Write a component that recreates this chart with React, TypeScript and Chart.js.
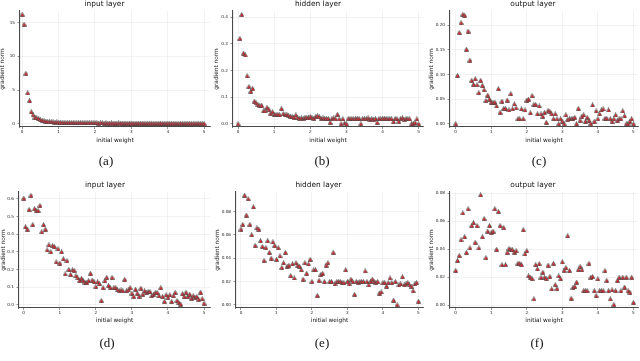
import React, { useEffect, useRef } from "react";
import { Chart, registerables } from "chart.js";
Chart.register(...registerables);

const weights = [
  0, 0.05, 0.1, 0.15, 0.2, 0.25, 0.3, 0.35, 0.4, 0.45,
  0.5, 0.55, 0.6, 0.65, 0.7, 0.75, 0.8, 0.85, 0.9, 0.95,
  1, 1.05, 1.1, 1.15, 1.2, 1.25, 1.3, 1.35, 1.4, 1.45,
  1.5, 1.55, 1.6, 1.65, 1.7, 1.75, 1.8, 1.85, 1.9, 1.95,
  2, 2.05, 2.1, 2.15, 2.2, 2.25, 2.3, 2.35, 2.4, 2.45,
  2.5, 2.55, 2.6, 2.65, 2.7, 2.75, 2.8, 2.85, 2.9, 2.95,
  3, 3.05, 3.1, 3.15, 3.2, 3.25, 3.3, 3.35, 3.4, 3.45,
  3.5, 3.55, 3.6, 3.65, 3.7, 3.75, 3.8, 3.85, 3.9, 3.95,
  4, 4.05, 4.1, 4.15, 4.2, 4.25, 4.3, 4.35, 4.4, 4.45,
  4.5, 4.55, 4.6, 4.65, 4.7, 4.75, 4.8, 4.85, 4.9, 4.95,
  5,
];

// (a) input layer, run 1
const inputA = [
  16.2, 14.75, 7.5, 4.6, 3.45, 1.8, 1.35, 1.0, 0.9, 0.8,
  0.62, 0.55, 0.48, 0.42, 0.38, 0.33, 0.36, 0.3, 0.28, 0.3,
  0.26, 0.25, 0.22, 0.24, 0.2, 0.23, 0.21, 0.19, 0.22, 0.2,
  0.18, 0.21, 0.19, 0.17, 0.2, 0.18, 0.16, 0.19, 0.17, 0.15,
  0.2, 0.16, 0.14, 0.17, 0.15, 0.13, 0.16, 0.14, 0.12, 0.15,
  0.13, 0.14, 0.12, 0.15, 0.11, 0.13, 0.12, 0.14, 0.1, 0.13,
  0.11, 0.12, 0.1, 0.13, 0.11, 0.09, 0.12, 0.1, 0.11, 0.09,
  0.12, 0.1, 0.08, 0.11, 0.09, 0.1, 0.12, 0.08, 0.1, 0.09,
  0.11, 0.09, 0.1, 0.08, 0.11, 0.09, 0.07, 0.1, 0.08, 0.09,
  0.11, 0.08, 0.1, 0.07, 0.09, 0.08, 0.1, 0.09, 0.07, 0.08,
  0.06,
];
// (b) hidden layer, run 1
const hiddenB = [
  0.0, 0.32, 0.41, 0.265, 0.258, 0.18, 0.14, 0.122, 0.133, 0.085,
  0.078, 0.072, 0.068, 0.07, 0.048, 0.048, 0.062, 0.055, 0.04, 0.045,
  0.036, 0.035, 0.036, 0.034, 0.057, 0.038, 0.033, 0.036, 0.031, 0.028,
  0.027, 0.025, 0.033, 0.024, 0.02, 0.022, 0.02, 0.024, 0.025, 0.022,
  0.028, 0.022, 0.02, 0.028, 0.03, 0.026, 0.02, 0.022, 0.021, 0.02,
  0.02, 0.005, 0.02, 0.022, 0.018, 0.036, 0.018, 0.0, 0.019, 0.003,
  0.0, 0.02, 0.019, 0.02, 0.018, 0.02, 0.021, 0.02, 0.0, 0.02,
  0.018, 0.02, 0.022, 0.016, 0.02, 0.015, 0.02, 0.005, 0.02, 0.018,
  0.02, 0.021, 0.02, 0.019, 0.02, 0.018, 0.008, 0.02, 0.019, 0.01,
  0.02, 0.022, 0.016, 0.02, 0.019, 0.018, 0.0, 0.002, 0.005, 0.018,
  0.0,
];
// (c) output layer, run 1
const outputC = [
  0.0, 0.098, 0.185, 0.205, 0.222, 0.22, 0.151, 0.188, 0.129, 0.088,
  0.08, 0.091, 0.079, 0.063, 0.088, 0.078, 0.069, 0.047, 0.058, 0.05,
  0.044, 0.043, 0.044, 0.036, 0.071, 0.023, 0.046, 0.031, 0.031, 0.048,
  0.028, 0.061, 0.03, 0.04, 0.032, 0.01, 0.01, 0.03, 0.01, 0.028,
  0.048, 0.05, 0.022, 0.057, 0.039, 0.039, 0.02, 0.036, 0.02, 0.015,
  0.023, 0.003, 0.027, 0.025, 0.02, 0.01, 0.02, 0.01, 0.0, 0.01,
  0.005, 0.0, 0.018, 0.009, 0.01, 0.01, 0.011, 0.013, 0.0, 0.031,
  0.007, 0.015, 0.018, 0.005, 0.013, 0.007, 0.001, 0.038, 0.005, 0.026,
  0.01, 0.02, 0.028, 0.03, 0.011, 0.011, 0.028, 0.01, 0.005, 0.01,
  0.018, 0.007, 0.01, 0.01, 0.026, 0.016, 0.0, 0.0, 0.005, 0.01,
  0.0,
];
// (d) input layer, run 2
const inputD = [
  0.604, 0.441, 0.428, 0.54, 0.62, 0.454, 0.544, 0.533, 0.533, 0.563,
  0.413, 0.454, 0.428, 0.31, 0.34, 0.3, 0.335, 0.33, 0.242, 0.317,
  0.236, 0.3, 0.26, 0.174, 0.25, 0.2, 0.172, 0.197, 0.195, 0.165,
  0.152, 0.137, 0.15, 0.137, 0.127, 0.127, 0.137, 0.178, 0.14, 0.13,
  0.103, 0.13, 0.12, 0.024, 0.097, 0.137, 0.155, 0.109, 0.097, 0.155,
  0.097, 0.097, 0.084, 0.079, 0.084, 0.079, 0.144, 0.079, 0.084, 0.097,
  0.066, 0.047, 0.088, 0.066, 0.047, 0.094, 0.06, 0.079, 0.07, 0.075,
  0.075, 0.051, 0.06, 0.07, 0.07, 0.052, 0.097, 0.047, 0.019, 0.056,
  0.043, 0.056, 0.019, 0.051, 0.07, 0.024, 0.013, 0.004, 0.062, 0.047,
  0.071, 0.047, 0.06, 0.037, 0.051, 0.041, 0.047, 0.032, 0.071, 0.034,
  0.009,
];
// (e) hidden layer, run 2
const hiddenE = [
  0.065, 0.069, 0.094, 0.077, 0.091, 0.069, 0.06, 0.084, 0.051, 0.066,
  0.065, 0.055, 0.05, 0.038, 0.049, 0.055, 0.045, 0.04, 0.054, 0.051,
  0.039, 0.049, 0.042, 0.032, 0.036, 0.045, 0.033, 0.034, 0.025, 0.035,
  0.023, 0.036, 0.034, 0.033, 0.03, 0.022, 0.036, 0.027, 0.035, 0.039,
  0.02, 0.03, 0.03, 0.008, 0.021, 0.026, 0.027, 0.02, 0.034, 0.036,
  0.02, 0.02, 0.045, 0.018, 0.02, 0.02, 0.02, 0.019, 0.019, 0.03,
  0.02, 0.018, 0.022, 0.02, 0.009, 0.02, 0.019, 0.02, 0.02, 0.02,
  0.029, 0.02, 0.017, 0.02, 0.022, 0.02, 0.019, 0.02, 0.01, 0.011,
  0.019, 0.019, 0.016, 0.019, 0.023, 0.019, 0.004, 0.02, 0.0, 0.017,
  0.018, 0.024, 0.017, 0.018, 0.019, 0.017, 0.016, 0.012, 0.018, 0.019,
  0.003,
];
// (f) output layer, run 2
const outputF = [
  0.0249, 0.032, 0.0356, 0.0468, 0.066, 0.049, 0.0378, 0.069, 0.041, 0.057,
  0.059, 0.045, 0.057, 0.041, 0.079, 0.049, 0.062, 0.034, 0.053, 0.057,
  0.052, 0.053, 0.069, 0.04, 0.067, 0.057, 0.029, 0.0555, 0.029, 0.0378,
  0.0406, 0.04, 0.0396, 0.038, 0.039, 0.03, 0.03, 0.029, 0.054, 0.0368,
  0.039, 0.021, 0.02, 0.019, 0.0045, 0.029, 0.026, 0.0297, 0.02, 0.0237,
  0.02, 0.019, 0.0287, 0.0206, 0.0116, 0.03, 0.0147, 0.012, 0.021, 0.019,
  0.031, 0.025, 0.027, 0.0496, 0.025, 0.005, 0.0128, 0.0135, 0.0166, 0.0254,
  0.0278, 0.0254, 0.0104, 0.0104, 0.0104, 0.03, 0.02, 0.0206, 0.0104, 0.0069,
  0.0188, 0.0104, 0.0104, 0.0104, 0.0247, 0.0178, 0.0104, 0.0045, 0.011, 0.0005,
  0.0104, 0.0178, 0.02, 0.0104, 0.02, 0.013, 0.02, 0.0104, 0.0093, 0.02,
  0.002,
];

const xTicks = [0, 1, 2, 3, 4, 5];
const xTickLabels = ["0", "1", "2", "3", "4", "5"];
const yTicksA = [0, 5, 10, 15];
const yLabelsA = ["0", "5", "10", "15"];
const yTicksB = [0, 0.1, 0.2, 0.3, 0.4];
const yLabelsB = ["0.0", "0.1", "0.2", "0.3", "0.4"];
const yTicksC = [0, 0.05, 0.1, 0.15, 0.2];
const yLabelsC = ["0.00", "0.05", "0.10", "0.15", "0.20"];
const yTicksD = [0, 0.1, 0.2, 0.3, 0.4, 0.5, 0.6];
const yLabelsD = ["0.0", "0.1", "0.2", "0.3", "0.4", "0.5", "0.6"];
const yTicksE = [0, 0.02, 0.04, 0.06, 0.08];
const yLabelsE = ["0.00", "0.02", "0.04", "0.06", "0.08"];

const titles = ["input layer", "hidden layer", "output layer", "input layer", "hidden layer", "output layer"];
const captions = ["(a)", "(b)", "(c)", "(d)", "(e)", "(f)"];
const xTitle = "initial weight";
const yTitle = "gradient norm";

type Panel = {
  values: number[];
  yTicks: number[];
  yLabels: string[];
  yMin: number;
  yMax: number;
  xMin: number;
  xMax: number;
  left: number;
  top: number;
  yW: number;
  plotW: number;
  height: number;
  xH: number;
  titlePad: number;
  capX: number;
  capY: number;
};

const panels: Panel[] = [
  { values: inputA, yTicks: yTicksA, yLabels: yLabelsA, yMin: -0.45, yMax: 16.7, xMin: -0.06, xMax: 5.16,
    left: -1, top: 0, yW: 21, plotW: 190, height: 144, xH: 17, titlePad: 2.1, capX: 106, capY: 161 },
  { values: hiddenB, yTicks: yTicksB, yLabels: yLabelsB, yMin: -0.012, yMax: 0.423, xMin: -0.14, xMax: 5.12,
    left: 213, top: 0, yW: 20, plotW: 190, height: 144, xH: 17, titlePad: 2.1, capX: 322, capY: 161 },
  { values: outputC, yTicks: yTicksC, yLabels: yLabelsC, yMin: -0.0067, yMax: 0.2287, xMin: -0.16, xMax: 5.13,
    left: 428, top: 0, yW: 22, plotW: 188, height: 144, xH: 17, titlePad: 2.1, capX: 539, capY: 161 },
  { values: inputD, yTicks: yTicksD, yLabels: yLabelsD, yMin: -0.0186, yMax: 0.6386, xMin: -0.13, xMax: 5.166,
    left: 0, top: 181, yW: 19, plotW: 191, height: 143, xH: 16, titlePad: 2.1, capX: 107, capY: 343 },
  { values: hiddenE, yTicks: yTicksE, yLabels: yLabelsE, yMin: -0.0028, yMax: 0.0968, xMin: -0.14, xMax: 5.13,
    left: 214, top: 181, yW: 22, plotW: 187, height: 143, xH: 16, titlePad: 2.1, capX: 322, capY: 343 },
  { values: outputF, yTicks: yTicksE, yLabels: yLabelsE, yMin: -0.002, yMax: 0.081, xMin: -0.16, xMax: 5.13,
    left: 428, top: 181, yW: 22, plotW: 188, height: 143, xH: 16, titlePad: 2.1, capX: 537, capY: 343 },
];

function makeMarker(): HTMLCanvasElement {
  const c = document.createElement("canvas");
  c.width = 5;
  c.height = 5;
  const g = c.getContext("2d")!;
  const tri = () => {
    g.beginPath();
    g.moveTo(2.5, 0.5);
    g.lineTo(4.6, 4.4);
    g.lineTo(0.4, 4.4);
    g.closePath();
  };
  tri();
  g.fillStyle = "#c4c4c4";
  g.fill();
  g.beginPath();
  g.moveTo(2.7, 1.2);
  g.lineTo(4.5, 4.4);
  g.lineTo(0.9, 4.4);
  g.closePath();
  g.fillStyle = "#ea1c24";
  g.fill();
  tri();
  g.strokeStyle = "#2a2a2a";
  g.lineWidth = 0.6;
  g.stroke();
  return c;
}

function PanelChart({ p, title }: { p: Panel; title: string }) {
  const ref = useRef<HTMLCanvasElement | null>(null);
  const width = p.yW * 2 + p.plotW;
  useEffect(() => {
    if (!ref.current) return;
    const marker = makeMarker();
    const gridColor = "rgba(0,0,0,0.085)";
    const axisColor = "#4a4a4a";
    const chart = new Chart(ref.current, {
      type: "scatter",
      data: {
        datasets: [
          {
            data: p.values.map((v, i) => ({ x: weights[i], y: v })),
            pointStyle: marker as any,
            pointRadius: 2,
            pointHoverRadius: 2,
            showLine: false,
          },
        ],
      },
      options: {
        animation: false,
        responsive: false,
        events: [],
        layout: { padding: { left: 0, right: p.yW, top: 0, bottom: 0 } },
        plugins: {
          legend: { display: false },
          tooltip: { enabled: false },
          title: {
            display: true,
            text: title,
            color: "#111",
            font: { size: 7.4, weight: "normal" as any, family: "DejaVu Sans" },
            padding: { top: 0, bottom: p.titlePad },
          },
        },
        scales: {
          x: {
            type: "linear",
            min: p.xMin,
            max: p.xMax,
            afterBuildTicks: (s: any) => {
              s.ticks = xTicks.map((v) => ({ value: v }));
            },
            afterFit: (s: any) => {
              s.height = p.xH;
            },
            ticks: {
              autoSkip: false,
              maxRotation: 0,
              padding: 0.6,
              color: "#222",
              font: { size: 4.2, family: "DejaVu Sans" },
              callback: (v: any) => xTickLabels[xTicks.indexOf(Number(v))] ?? "",
            },
            grid: { color: gridColor, lineWidth: 0.6, tickLength: 2, tickColor: axisColor, tickWidth: 0.6 },
            border: { display: true, color: axisColor, width: 1.1 },
            title: { display: true, text: xTitle, color: "#111", padding: 0, font: { size: 5.8, family: "DejaVu Sans" } },
          },
          y: {
            type: "linear",
            min: p.yMin,
            max: p.yMax,
            afterBuildTicks: (s: any) => {
              s.ticks = p.yTicks.map((v) => ({ value: v }));
            },
            afterFit: (s: any) => {
              s.width = p.yW;
            },
            ticks: {
              autoSkip: false,
              padding: 2.5,
              color: "#222",
              font: { size: 4.2, family: "DejaVu Sans" },
              callback: (v: any) => p.yLabels[p.yTicks.indexOf(Number(v))] ?? "",
            },
            grid: { color: gridColor, lineWidth: 0.6, tickLength: 2.5, tickColor: axisColor, tickWidth: 0.6 },
            border: { display: true, color: axisColor, width: 1.1 },
            title: { display: true, text: yTitle, color: "#111", padding: 0, font: { size: 5.8, family: "DejaVu Sans" } },
          },
        },
      },
    });
    return () => chart.destroy();
  }, [p, title]);
  return (
    <canvas
      ref={ref}
      width={width}
      height={p.height}
      style={{ position: "absolute", left: p.left, top: p.top, width, height: p.height }}
    />
  );
}

export default function App() {
  return (
    <div
      style={{
        position: "absolute",
        left: 0,
        top: 0,
        width: 640,
        height: 361,
        overflow: "hidden",
        background: "#fff",
      }}
    >
      {panels.map((p, i) => (
        <PanelChart key={i} p={p} title={titles[i]} />
      ))}
      {panels.map((p, i) => (
        <div
          key={"c" + i}
          style={{
            position: "absolute",
            left: p.capX - 20,
            top: p.capY - 7,
            width: 40,
            height: 14,
            lineHeight: "14px",
            textAlign: "center",
            fontFamily: "'Liberation Serif', 'DejaVu Serif', serif",
            fontSize: 13,
            color: "#111",
            filter: "grayscale(1)",
          }}
        >
          {captions[i]}
        </div>
      ))}
    </div>
  );
}
